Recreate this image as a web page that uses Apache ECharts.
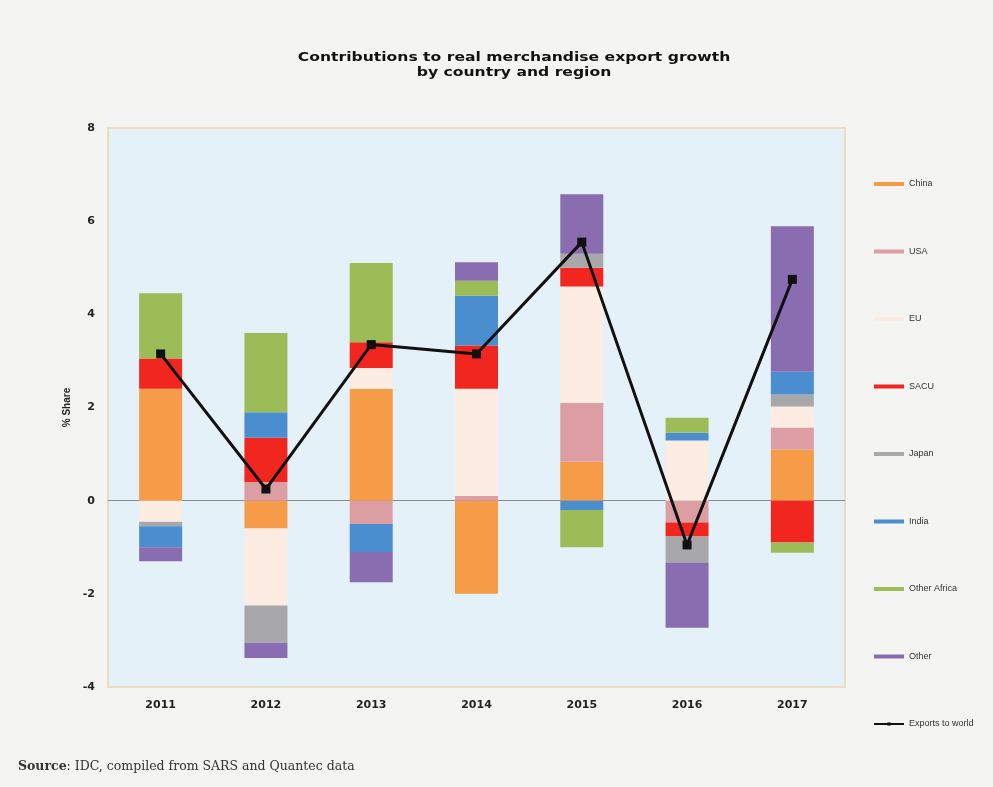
<!DOCTYPE html>
<html>
<head>
<meta charset="utf-8">
<script src="https://cdn.jsdelivr.net/npm/echarts@6/dist/echarts.min.js"></script>
<style>
  html, body { margin: 0; padding: 0; background: #f4f4f3; }
  #main { width: 993px; height: 787px; }
</style>
</head>
<body>
<div id="main"></div>
<script>
// data
var years = ['2011', '2012', '2013', '2014', '2015', '2016', '2017'];
var china = [2.4, -0.6, 2.4, -2.0, 0.84, 0, 1.1];
var usa = [0, 0.4, -0.5, 0.1, 1.26, -0.47, 0.47];
var eu = [-0.45, -1.65, 0.45, 2.3, 2.5, 1.29, 0.45];
var sacu = [0.65, 0.95, 0.55, 0.93, 0.4, -0.3, -0.9];
var japan = [-0.1, -0.8, 0, 0, 0.3, -0.56, 0.26];
var india = [-0.45, 0.55, -0.6, 1.07, -0.2, 0.17, 0.49];
var otherAfrica = [1.4, 1.7, 1.7, 0.32, -0.8, 0.32, -0.22];
var other = [-0.3, -0.33, -0.65, 0.4, 1.28, -1.4, 3.12];
var exportsWorld = [3.15, 0.25, 3.35, 3.15, 5.55, -0.95, 4.75];
var yTicks = [-4, 8, 2]; // min, max, interval

var myChart = echarts.init(document.getElementById('main'));

function barSeries(name, data, color) {
  return {
    name: name,
    type: 'bar',
    stack: 'total',
    barWidth: 43,
    data: data,
    itemStyle: { color: color },
  };
}

var option = {
  animation: false,
  backgroundColor: '#f4f4f3',
  graphic: [
    {
      // wide black title, stretched a bit to match the original face
      type: 'text',
      x: 514,
      y: 50,
      scaleX: 1.2,
      style: {
        text: 'Contributions to real merchandise export growth\nby country and region',
        align: 'center',
        textAlign: 'center',
        font: '900 13px "DejaVu Sans"',
        lineHeight: 15,
        fill: '#111',
      },
    },
    {
      type: 'text',
      left: 18,
      top: 760,
      style: {
        text: '{b|Source}: IDC, compiled from SARS and Quantec data',
        font: '12.5px "DejaVu Serif"',
        fill: '#333',
        rich: {
          b: { fontWeight: 'bold', fontSize: 12.5, fontFamily: 'DejaVu Serif', color: '#222' },
        },
      },
    },
  ],
  grid: {
    left: 108,
    right: 148,
    top: 128,
    bottom: 100,
    show: true,
    backgroundColor: '#e4f1f8',
    borderColor: '#efdcbc',
    borderWidth: 2,
  },
  legend: {
    orient: 'vertical',
    left: 868,
    top: 173,
    itemWidth: 30,
    itemHeight: 4,
    itemGap: 55.5,
    textStyle: { fontSize: 9, color: '#333', lineHeight: 12, fontFamily: 'Liberation Sans' },
    data: [
      { name: 'China', icon: 'rect' },
      { name: 'USA', icon: 'rect' },
      { name: 'EU', icon: 'rect' },
      { name: 'SACU', icon: 'rect' },
      { name: 'Japan', icon: 'rect' },
      { name: 'India', icon: 'rect' },
      { name: 'Other Africa', icon: 'rect' },
      { name: 'Other', icon: 'rect' },
      'Exports to world',
    ],
  },
  xAxis: {
    type: 'category',
    data: years,
    axisLine: { show: false },
    axisTick: { show: false },
    axisLabel: { fontSize: 11, fontWeight: 900, fontFamily: 'DejaVu Sans', color: '#222', margin: 13 },
  },
  yAxis: {
    type: 'value',
    min: yTicks[0],
    max: yTicks[1],
    interval: yTicks[2],
    name: '% Share',
    nameLocation: 'middle',
    nameGap: 31,
    nameTextStyle: { fontSize: 10, fontWeight: 'bold', color: '#222' },
    axisLine: { show: false },
    axisTick: { show: false },
    splitLine: { show: false },
    axisLabel: { fontSize: 11, fontWeight: 900, fontFamily: 'DejaVu Sans', color: '#222', margin: 13 },
  },
  series: [
    barSeries('China', china, '#f69b48'),
    barSeries('USA', usa, '#dc9ea3'),
    barSeries('EU', eu, '#fcece2'),
    barSeries('SACU', sacu, '#f1271f'),
    barSeries('Japan', japan, '#a8a8aa'),
    barSeries('India', india, '#4b8ed0'),
    barSeries('Other Africa', otherAfrica, '#9cbc58'),
    barSeries('Other', other, '#8a6cb0'),
    {
      name: 'Exports to world',
      type: 'line',
      data: exportsWorld,
      symbol: 'rect',
      symbolSize: 9,
      z: 5,
      lineStyle: { color: '#111', width: 3 },
      itemStyle: { color: '#111' },
      markLine: {
        silent: true,
        symbol: 'none',
        label: { show: false },
        lineStyle: { color: '#8a8a8a', width: 1, type: 'solid' },
        data: [{ yAxis: 0 }],
        z: 1,
      },
    },
  ],
};

option && myChart.setOption(option);
</script>
</body>
</html>
